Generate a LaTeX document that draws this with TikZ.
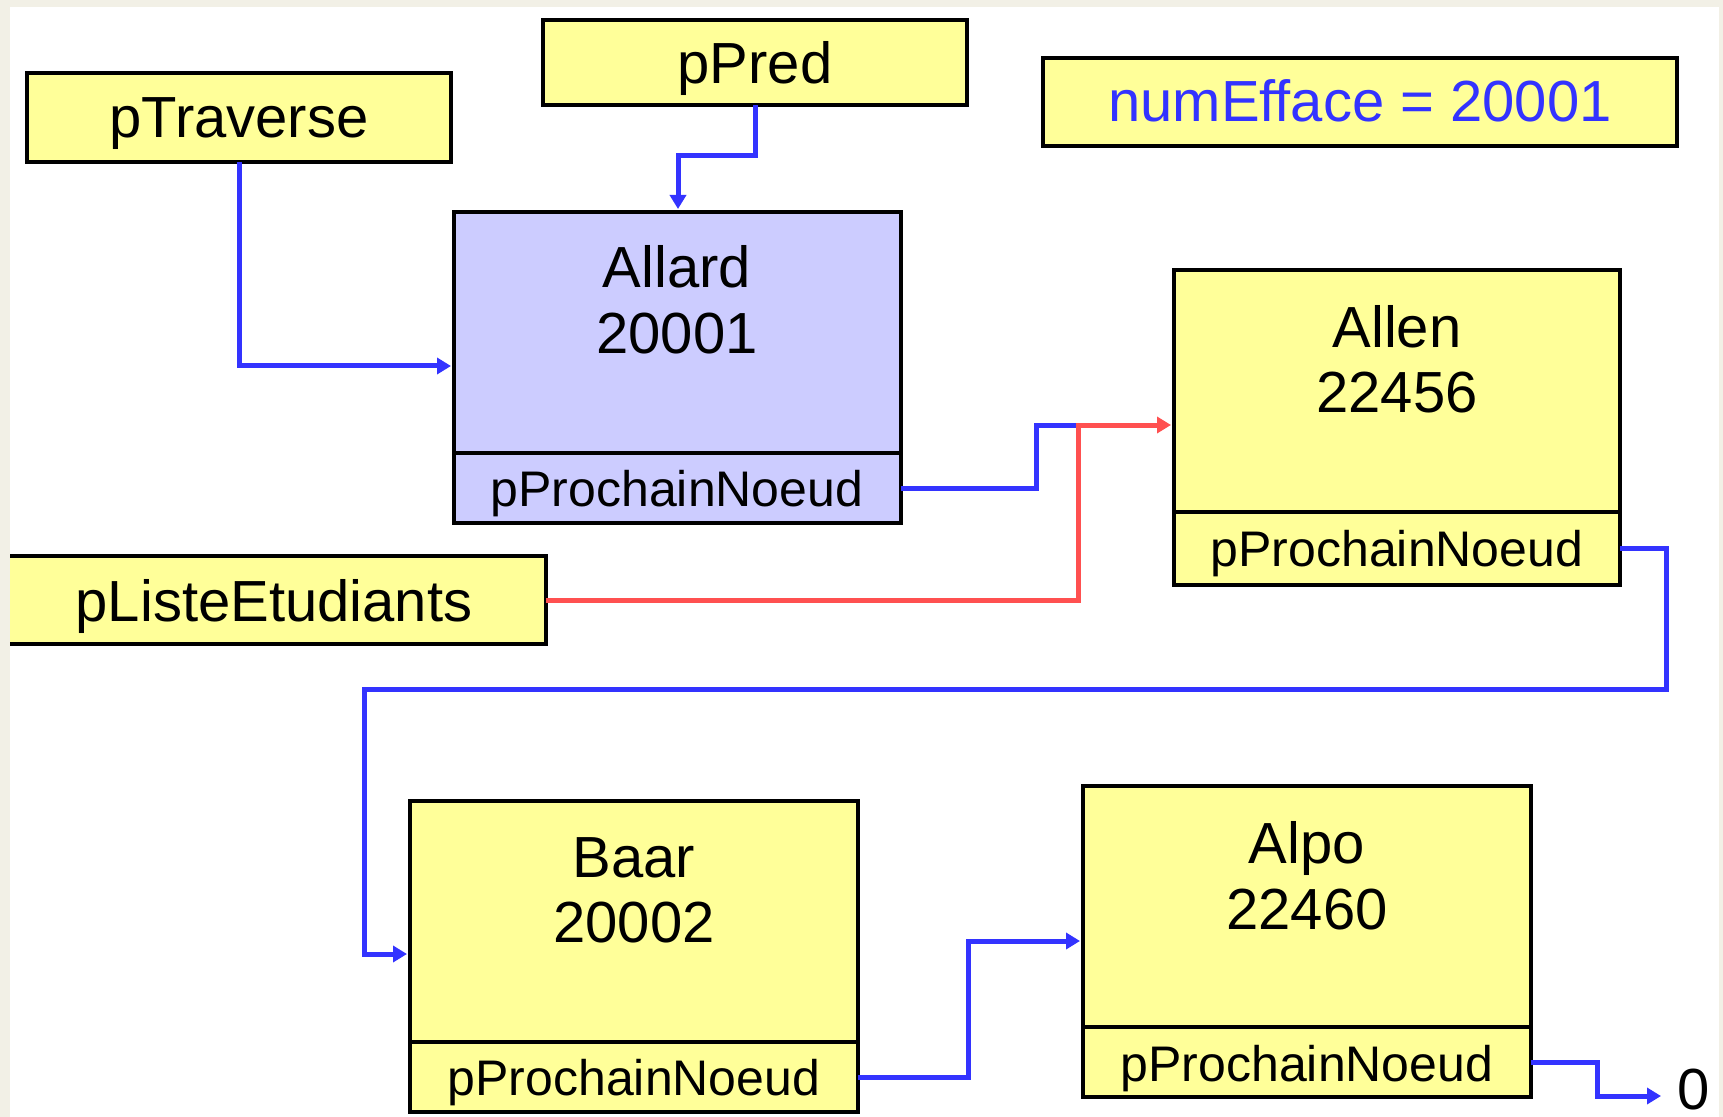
\documentclass[tikz,border=0pt]{standalone}
\usepackage{fontspec}
\setmainfont{Liberation Sans}
\usetikzlibrary{arrows.meta}
\definecolor{bgc}{HTML}{F2F0E6}
\definecolor{ylw}{HTML}{FFFF99}
\definecolor{lav}{HTML}{CCCCFF}
\definecolor{lblue}{HTML}{3333FF}
\definecolor{lred}{HTML}{FF5050}
\begin{document}
\begin{tikzpicture}[x=0.5pt,y=-0.5pt,
  rec/.style={draw=black, line width=1.6pt, inner sep=0pt, outer sep=0pt, anchor=north west, fill=ylw},
  big/.style={font=\fontsize{29pt}{33pt}\selectfont, anchor=base, inner sep=0pt},
  small/.style={font=\fontsize{25pt}{29pt}\selectfont, anchor=base, inner sep=0pt},
  link/.style={draw=lblue, line width=2.5pt},
  rlink/.style={draw=lred, line width=2.5pt},
  tip/.style={-{Triangle[length=7pt,width=8pt]}, shorten >=1.5pt}
]
\useasboundingbox (0,0) rectangle (1723,1117);
\fill[bgc] (0,0) rectangle (1723,1117);
\fill[white] (10,7) rectangle (1719,1117);

% pointer boxes
\node[rec, minimum width=212pt, minimum height=44.5pt] (ptrav) at (27,73) {};
\node[big] (ptravt) at (239,138) {pTraverse};
\node[rec, minimum width=212pt, minimum height=42.5pt] (ppred) at (543,20) {};
\node[big] (ppredt) at (755,84) {pPred};
\node[rec, minimum width=317pt, minimum height=44pt] (numeff) at (1043,58) {};
\node[big, text=lblue] (numefft) at (1360,122) {numEfface = 20001};
\node[rec, minimum width=275.5pt, minimum height=44pt] (pliste) at (-5,556) {};
\node[big] (plistet) at (274,621) {pListeEtudiants};

% records
\node[rec, fill=lav, minimum width=223.5pt, minimum height=120.5pt] (allard) at (454,212) {};
\node[rec, fill=lav, minimum width=223.5pt, minimum height=35pt] (allardp) at (454,453) {};
\node[big] (allardn) at (677,288) {Allard};
\node[big] (allardk) at (677,354) {20001};
\node[small] (allardpt) at (677,506) {pProchainNoeud};

\node[rec, minimum width=223pt, minimum height=121pt] (allen) at (1174,270) {};
\node[rec, minimum width=223pt, minimum height=36.5pt] (allenp) at (1174,512) {};
\node[big] (allenn) at (1397,348) {Allen};
\node[big] (allenk) at (1397,413) {22456};
\node[small] (allenpt) at (1397,566) {pProchainNoeud};

\node[rec, minimum width=224pt, minimum height=120.5pt] (baar) at (410,801) {};
\node[rec, minimum width=224pt, minimum height=35pt] (baarp) at (410,1042) {};
\node[big] (baarn) at (634,877) {Baar};
\node[big] (baark) at (634,942) {20002};
\node[small] (baarpt) at (634,1095) {pProchainNoeud};

\node[rec, minimum width=224pt, minimum height=120.5pt] (alpo) at (1083,786) {};
\node[rec, minimum width=224pt, minimum height=35pt] (alpop) at (1083,1027) {};
\node[big] (alpon) at (1307,863) {Alpo};
\node[big] (alpok) at (1307,929) {22460};
\node[small] (alpopt) at (1307,1081) {pProchainNoeud};

\node[big] (zero) at (1694,1109) {0};

% connector ends
\coordinate (c1) at (454,366);
\coordinate (c2) at (678,212);
\coordinate (c4) at (1174,425);
\coordinate (c5) at (410,954);
\coordinate (c6) at (1083,941);
\coordinate (c7) at (1664,1096);

% connectors
\draw[link, tip] (ptrav.south) |- (c1);
\draw[link, tip] (ppred.south) -- ++(0,51) -| (c2);
\draw[link] (allardp.east) -| (1036,425) -- (1078,425);
\draw[rlink, tip] (pliste.east) -| (1078,425) -- (c4);
\draw[link, tip] (allenp.east) -| (1666,689) -| (364,954) -- (c5);
\draw[link, tip] (baarp.east) -| (968,941) -- (c6);
\draw[link, tip] (alpop.east) -| (1597,1096) -- (c7);

% left frame strip
\fill[bgc] (0,0) rectangle (10,1117);
\end{tikzpicture}
\end{document}
